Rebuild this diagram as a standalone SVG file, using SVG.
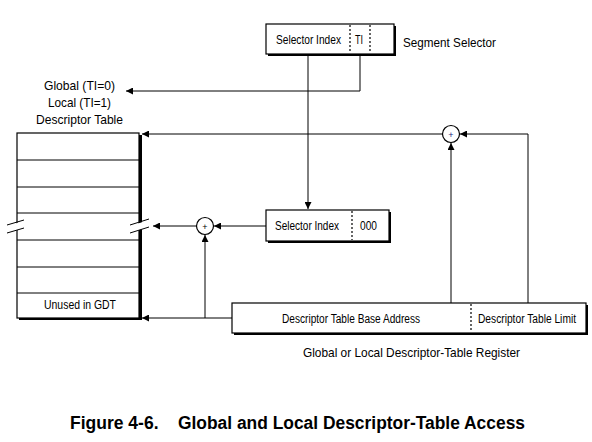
<svg xmlns="http://www.w3.org/2000/svg" width="592" height="442" viewBox="0 0 592 442">
<defs>
<marker id="ah" markerUnits="userSpaceOnUse" markerWidth="8" markerHeight="7" refX="7" refY="3.5" orient="auto">
<path d="M0,0 L7,3.5 L0,7 z" fill="#000"/>
</marker>
<style>
.t{font-family:"Liberation Sans",Arial,sans-serif;fill:#000;font-size:13.5px}
.s{font-size:12px}
.box{fill:#fff;stroke:#000;stroke-width:1.2}
.sh{fill:#000}
.ln{stroke:#000;stroke-width:1;fill:none}
.ar{stroke:#000;stroke-width:1;fill:none;marker-end:url(#ah)}
.dot{stroke:#000;stroke-width:1.2;stroke-dasharray:2,2;fill:none}
.sum{fill:#fff;stroke:#000;stroke-width:1.2}
.cap{font-family:"Liberation Sans",Arial,sans-serif;font-weight:bold;font-size:17.5px;fill:#000}
</style>
</defs>
<rect width="592" height="442" fill="#fff"/>

<g id="table-label">
<text class="t" x="44" y="90" textLength="71" lengthAdjust="spacingAndGlyphs">Global (TI=0)</text>
<text class="t" x="48" y="107" textLength="63" lengthAdjust="spacingAndGlyphs">Local (TI=1)</text>
<text class="t" x="36" y="124" textLength="87" lengthAdjust="spacingAndGlyphs">Descriptor Table</text>
</g>

<g id="descriptor-table">
<rect class="sh" x="19" y="135" width="123" height="185"/>
<rect class="box" x="17" y="133" width="122" height="185"/>
<line class="ln" x1="17" y1="160" x2="139" y2="160"/>
<line class="ln" x1="17" y1="187" x2="139" y2="187"/>
<line class="ln" x1="17" y1="213" x2="139" y2="213"/>
<line class="ln" x1="17" y1="240" x2="139" y2="240"/>
<line class="ln" x1="17" y1="267" x2="139" y2="267"/>
<line class="ln" x1="17" y1="293" x2="139" y2="293"/>
<polygon points="7,226 24,221 24,228 7,233" fill="#fff"/>
<polygon points="130,226 149,220 149,227 130,233" fill="#fff"/>
<line class="ln" x1="7" y1="225" x2="24" y2="220"/>
<line class="ln" x1="7" y1="233" x2="24" y2="228"/>
<line class="ln" x1="130" y1="225" x2="149" y2="219"/>
<line class="ln" x1="130" y1="233" x2="149" y2="227"/>
<text class="t s" x="44" y="309" textLength="72" lengthAdjust="spacingAndGlyphs">Unused in GDT</text>
</g>

<g id="segment-selector">
<rect class="sh" x="268" y="26" width="128" height="30"/>
<rect class="box" x="266" y="24" width="128" height="30"/>
<line class="dot" x1="350" y1="25" x2="350" y2="53"/>
<line class="dot" x1="370" y1="25" x2="370" y2="53"/>
<text class="t s" x="276" y="44" textLength="65" lengthAdjust="spacingAndGlyphs">Selector Index</text>
<text class="t s" x="355" y="44" textLength="8" lengthAdjust="spacingAndGlyphs">TI</text>
<text class="t" x="403" y="47" textLength="93" lengthAdjust="spacingAndGlyphs">Segment Selector</text>
</g>

<g id="index-000">
<rect class="sh" x="268" y="212" width="123" height="31"/>
<rect class="box" x="266" y="210" width="123" height="31"/>
<line class="dot" x1="352" y1="211" x2="352" y2="240"/>
<text class="t s" x="275" y="230" textLength="64" lengthAdjust="spacingAndGlyphs">Selector Index</text>
<text class="t s" x="360" y="230" textLength="17" lengthAdjust="spacingAndGlyphs">000</text>
</g>

<g id="register">
<rect class="sh" x="234" y="305" width="354" height="30"/>
<rect class="box" x="232" y="303" width="354" height="30"/>
<line class="dot" x1="471" y1="304" x2="471" y2="332"/>
<text class="t s" x="282" y="323" textLength="138" lengthAdjust="spacingAndGlyphs">Descriptor Table Base Address</text>
<text class="t s" x="478" y="323" textLength="98" lengthAdjust="spacingAndGlyphs">Descriptor Table Limit</text>
<text class="t" x="303" y="357" textLength="217" lengthAdjust="spacingAndGlyphs">Global or Local Descriptor-Table Register</text>
</g>

<g id="adder-top">
<circle class="sum" cx="451" cy="134" r="8.5"/>
<text x="451" y="137.5" text-anchor="middle" font-family="Liberation Sans,sans-serif" font-size="9" fill="#1a237e">+</text>
</g>

<g id="adder-bottom">
<circle class="sum" cx="205" cy="226" r="8.5"/>
<text x="205" y="229.5" text-anchor="middle" font-family="Liberation Sans,sans-serif" font-size="9" fill="#000">+</text>
</g>

<g id="connectors">
<polyline class="ar" points="360,55 360,91 126,91"/>
<line class="ar" x1="308" y1="55" x2="308" y2="209"/>
<polyline class="ar" points="528,303 528,134 460,134"/>
<line class="ar" x1="451" y1="303" x2="451" y2="143"/>
<line class="ar" x1="442" y1="134" x2="142" y2="134"/>
<line class="ar" x1="266" y1="226" x2="214" y2="226"/>
<line class="ar" x1="196" y1="226" x2="153" y2="226"/>
<line class="ar" x1="205" y1="318" x2="205" y2="235"/>
<line class="ar" x1="232" y1="318" x2="142" y2="318"/>
</g>

<g id="caption">
<text class="cap" x="70" y="429">Figure 4-6.</text>
<text class="cap" x="178" y="429" textLength="347" lengthAdjust="spacingAndGlyphs">Global and Local Descriptor-Table Access</text>
</g>
</svg>
